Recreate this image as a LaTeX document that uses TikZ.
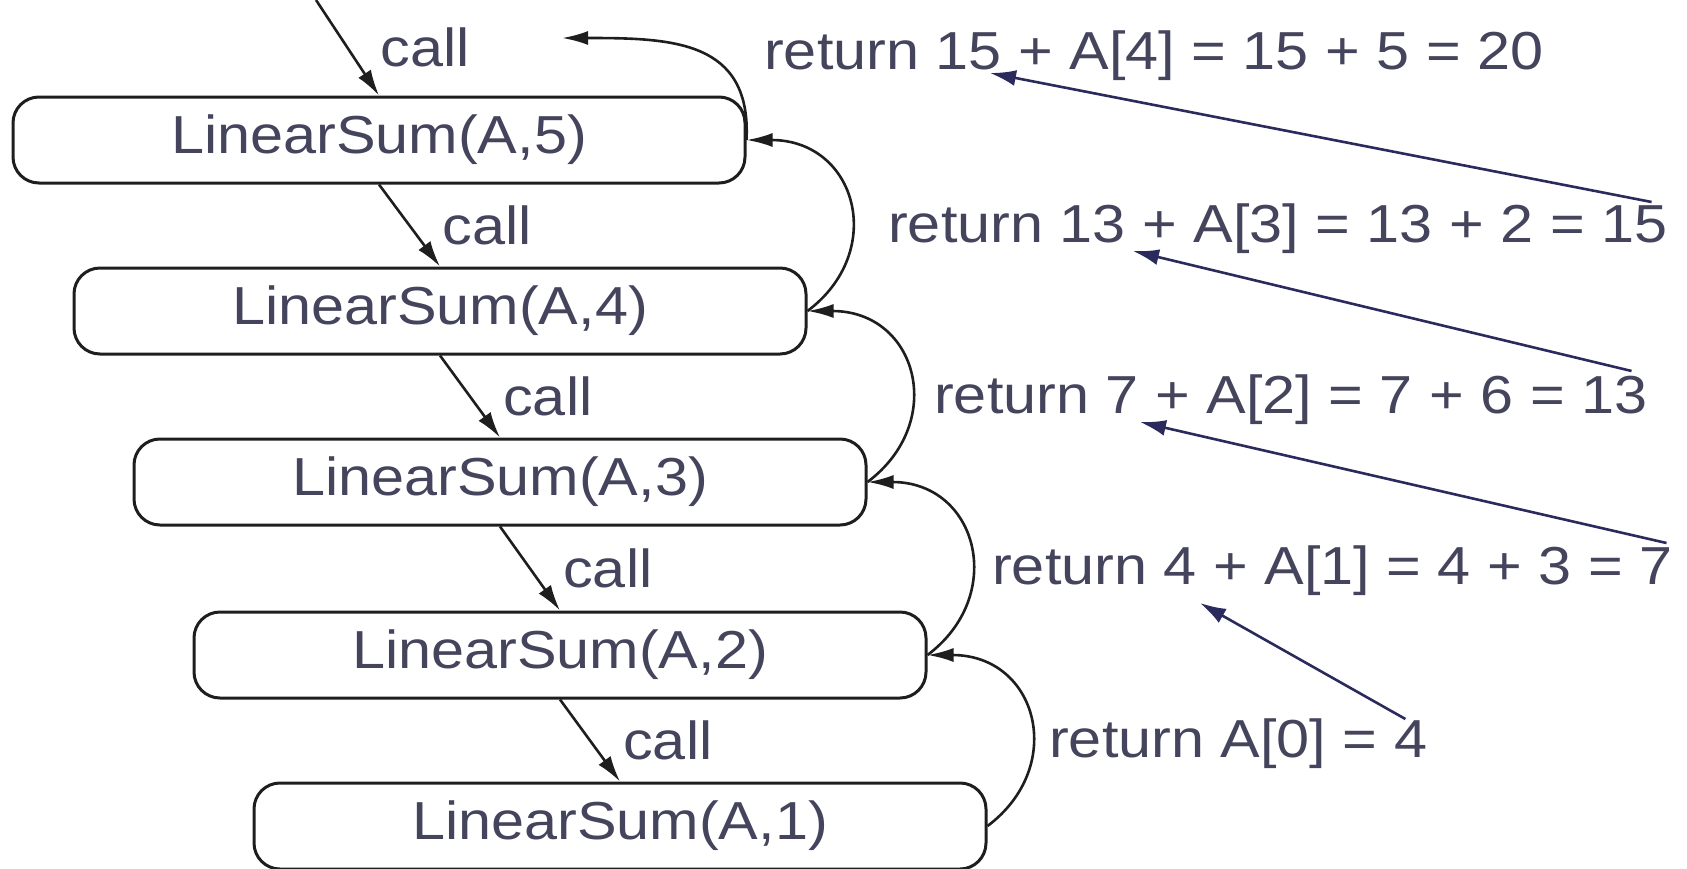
\documentclass[tikz,border=0pt]{standalone}
\usepackage{fontspec}
\setmainfont{Liberation Sans}[FakeStretch=1.11]
\usetikzlibrary{arrows.meta,calc}
\definecolor{txt}{RGB}{68,68,92}
\definecolor{navy}{RGB}{42,42,92}
\definecolor{ink}{RGB}{30,30,30}
\begin{document}
\begin{tikzpicture}[x=1pt,y=-1pt,
  bigfont/.style={font=\fontsize{53.5pt}{64pt}\selectfont},
  box/.style={draw=ink, line width=3pt, rounded corners=26pt,
    minimum width=732pt, minimum height=86pt, inner sep=0pt, text=txt, bigfont},
  lbl/.style={text=txt, bigfont, inner sep=0pt, anchor=west},
  calllbl/.style={lbl, midway, xshift=32pt},
  callarrow/.style={draw=ink, line width=2.6pt, -{Latex[length=26pt,width=15pt]}},
  retarrow/.style={draw=ink, line width=2.6pt, -{Latex[length=26pt,width=14pt]}},
  bluearrow/.style={draw=navy, line width=2.6pt, -{Latex[length=26pt,width=16pt]}},
]
\useasboundingbox (0,0) rectangle (1687,868);

\node[box] (b5) at (379,140) {LinearSum(A,5)};
\node[box] (b4) at (440,311) {LinearSum(A,4)};
\node[box] (b3) at (500,482) {LinearSum(A,3)};
\node[box] (b2) at (560,655) {LinearSum(A,2)};
\node[box] (b1) at (620,826) {LinearSum(A,1)};

\coordinate (caller) at (316,0);
\coordinate (back) at (562,38);

\draw[callarrow] (caller) -- node[calllbl]{call} (b5.north);
\draw[callarrow] (b5.south) -- node[calllbl]{call} (b4.north);
\draw[callarrow] (b4.south) -- node[calllbl]{call} (b3.north);
\draw[callarrow] (b3.south) -- node[calllbl]{call} (b2.north);
\draw[callarrow] (b2.south) -- node[calllbl]{call} (b1.north);

\draw[retarrow] (b1.east) .. controls +(80,-60) and +(110,0) .. (b2.east);
\draw[retarrow] (b2.east) .. controls +(80,-60) and +(110,0) .. (b3.east);
\draw[retarrow] (b3.east) .. controls +(80,-60) and +(110,0) .. (b4.east);
\draw[retarrow] (b4.east) .. controls +(80,-60) and +(110,0) .. (b5.east);
\draw[retarrow] (b5.east) .. controls +(5,-100) and +(110,0) .. (back);

\node[lbl] (r5) at (764,56) {return 15 + A[4] = 15 + 5 = 20};
\node[lbl] (r4) at (888,229) {return 13 + A[3] = 13 + 2 = 15};
\node[lbl] (r3) at (934,400) {return 7 + A[2] = 7 + 6 = 13};
\node[lbl] (r2) at (992,571) {return 4 + A[1] = 4 + 3 = 7};
\node[lbl] (r1) at (1049,744) {return A[0] = 4};

\draw[bluearrow] ([shift={(-16,-27)}]r4.east) -- ([shift={(226,17)}]r5.west);
\draw[bluearrow] ([shift={(-16,-29)}]r3.east) -- ([shift={(245,22)}]r4.west);
\draw[bluearrow] ([shift={(-6,-28)}]r2.east) -- ([shift={(206,22)}]r3.west);
\draw[bluearrow] ([shift={(-22,-25)}]r1.east) -- ([shift={(208,32)}]r2.west);
\end{tikzpicture}
\end{document}
